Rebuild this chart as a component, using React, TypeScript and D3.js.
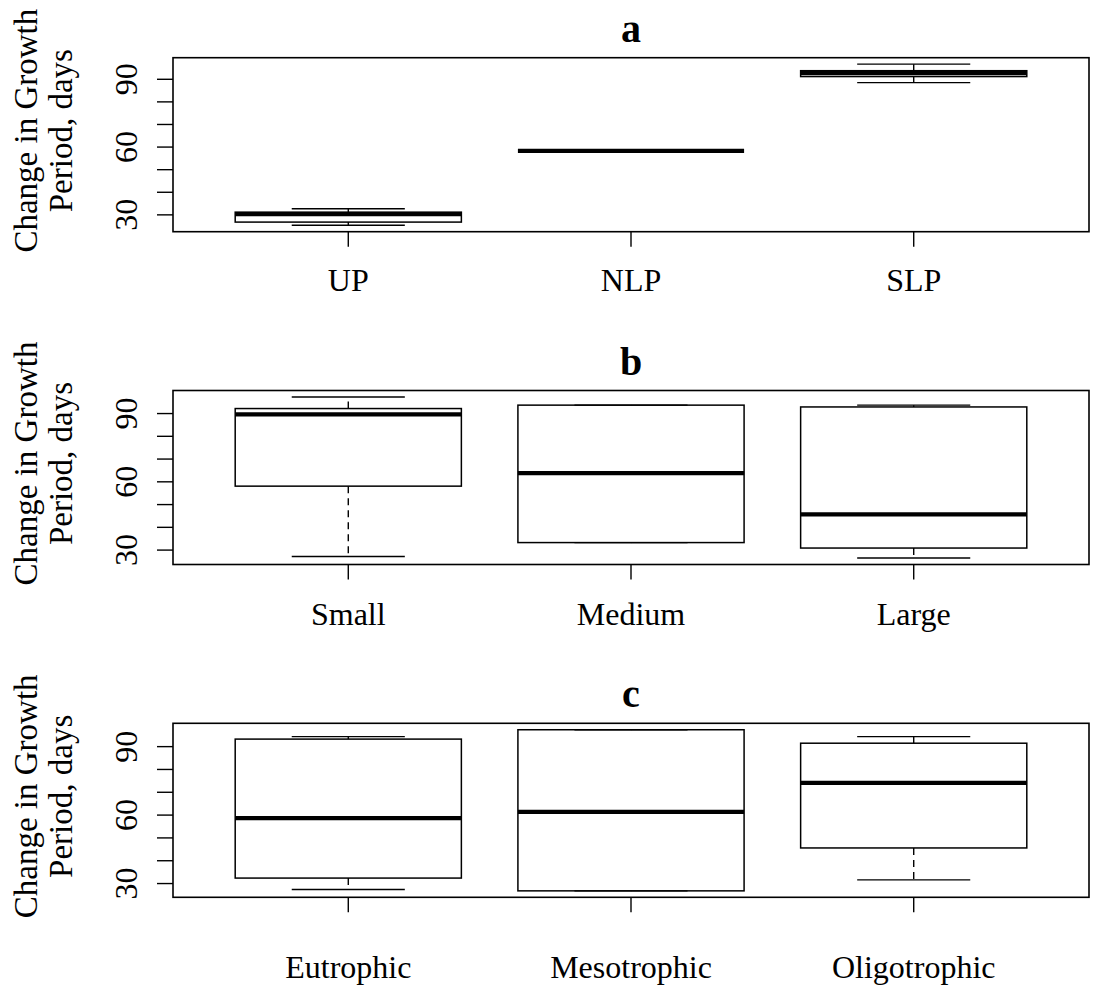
import * as d3 from "d3";
import { useEffect, useRef } from "react";

const width = 1096;
const height = 991;

// five-number summaries: [min, q1, median, q3, max]
const titles = ["a", "b", "c"];

const catsA = ["UP", "NLP", "SLP"];
const statsA = [
  [25.4, 26.8, 30.3, 31.2, 32.7],
  [58.3, 58.3, 58.3, 58.3, 58.3],
  [88.5, 91.2, 92.7, 93.8, 96.7],
];

const catsB = ["Small", "Medium", "Large"];
const statsB = [
  [27.2, 58.1, 89.6, 92.2, 97.3],
  [33.3, 33.3, 63.8, 93.7, 93.7],
  [26.5, 30.9, 45.7, 92.9, 93.7],
];

const catsC = ["Eutrophic", "Mesotrophic", "Oligotrophic"];
const statsC = [
  [27.4, 32.4, 58.7, 93.3, 94.4],
  [26.8, 26.8, 61.4, 97.4, 97.4],
  [31.6, 45.6, 74.1, 91.5, 94.4],
];

const yTicks = [30, 40, 50, 60, 70, 80, 90];
const yLabels = [30, 60, 90];
const yTitle = ["Change in Growth", "Period, days"];

const font = "'Liberation Serif', 'Times New Roman', serif";

const panels = [
  { title: titles[0], cats: catsA, stats: statsA, labelGap: 59 },
  { title: titles[1], cats: catsB, stats: statsB, labelGap: 60 },
  { title: titles[2], cats: catsC, stats: statsC, labelGap: 81 },
];

const App = () => {
  const ref = useRef<SVGSVGElement>(null);

  useEffect(() => {
    const svg = d3.select(ref.current);
    svg.selectAll("*").remove();

    const left = 173;
    const right = 1089;
    const panelH = 174;
    const step = 332.8;

    const x = d3.scaleLinear().domain([0.38, 3.62]).range([left, right]);

    panels.forEach((p, pi) => {
      const top = 57.7 + pi * step;
      const bottom = top + panelH;
      const lo = d3.min(p.stats, (s) => s[0]);
      const hi = d3.max(p.stats, (s) => s[4]);
      const pad = (hi - lo) * 0.04;
      const y = d3.scaleLinear().domain([lo - pad, hi + pad]).range([bottom, top]);

      const g = svg.append("g");

      // boxes
      p.stats.forEach((s, i) => {
        const cx = x(i + 1);
        const [mn, q1, md, q3, mx] = s;
        g.append("line")
          .attr("x1", cx).attr("x2", cx)
          .attr("y1", y(q3)).attr("y2", y(mx))
          .attr("stroke", "#000").attr("stroke-width", 1.4)
          .attr("stroke-dasharray", "7,5");
        g.append("line")
          .attr("x1", cx).attr("x2", cx)
          .attr("y1", y(q1)).attr("y2", y(mn))
          .attr("stroke", "#000").attr("stroke-width", 1.4)
          .attr("stroke-dasharray", "7,5");
        [mn, mx].forEach((v) => {
          g.append("line")
            .attr("x1", x(i + 0.8)).attr("x2", x(i + 1.2))
            .attr("y1", y(v)).attr("y2", y(v))
            .attr("stroke", "#000").attr("stroke-width", 1.4);
        });
        g.append("rect")
          .attr("x", x(i + 0.6))
          .attr("width", x(i + 1.4) - x(i + 0.6))
          .attr("y", y(q3))
          .attr("height", Math.max(0, y(q1) - y(q3)))
          .attr("fill", "none")
          .attr("stroke", "#000").attr("stroke-width", 1.5);
        g.append("line")
          .attr("x1", x(i + 0.6)).attr("x2", x(i + 1.4))
          .attr("y1", y(md)).attr("y2", y(md))
          .attr("stroke", "#000").attr("stroke-width", 4.2);
      });

      // frame
      g.append("rect")
        .attr("x", left).attr("y", top)
        .attr("width", right - left).attr("height", panelH)
        .attr("fill", "none").attr("stroke", "#000").attr("stroke-width", 1.6);

      // y axis
      yTicks.forEach((t) => {
        g.append("line")
          .attr("x1", left - 16).attr("x2", left)
          .attr("y1", y(t)).attr("y2", y(t))
          .attr("stroke", "#000").attr("stroke-width", 1.4);
      });
      yLabels.forEach((t) => {
        g.append("text")
          .attr("transform", `translate(137,${y(t)}) rotate(-90)`)
          .attr("text-anchor", "middle")
          .attr("font-family", font).attr("font-size", 32)
          .text(t);
      });

      // x axis
      p.cats.forEach((c, i) => {
        g.append("line")
          .attr("x1", x(i + 1)).attr("x2", x(i + 1))
          .attr("y1", bottom).attr("y2", bottom + 15)
          .attr("stroke", "#000").attr("stroke-width", 1.4);
        g.append("text")
          .attr("x", x(i + 1)).attr("y", bottom + p.labelGap)
          .attr("text-anchor", "middle")
          .attr("font-family", font).attr("font-size", 32)
          .text(c);
      });

      // y title
      const cy = (top + bottom) / 2 - 14;
      [36.7, 71.7].forEach((bx, li) => {
        g.append("text")
          .attr("transform", `translate(${bx},${cy}) rotate(-90)`)
          .attr("text-anchor", "middle")
          .attr("font-family", font).attr("font-size", 33)
          .text(yTitle[li]);
      });

      // title
      g.append("text")
        .attr("x", (left + right) / 2).attr("y", top - 16)
        .attr("text-anchor", "middle")
        .attr("font-family", font).attr("font-size", 40)
        .attr("font-weight", "bold")
        .text(p.title);
    });
  }, []);

  return (
    <svg
      ref={ref}
      width={width}
      height={height}
      style={{ position: "absolute", left: 0, top: 0, background: "#fff" }}
    />
  );
};

export default App;
